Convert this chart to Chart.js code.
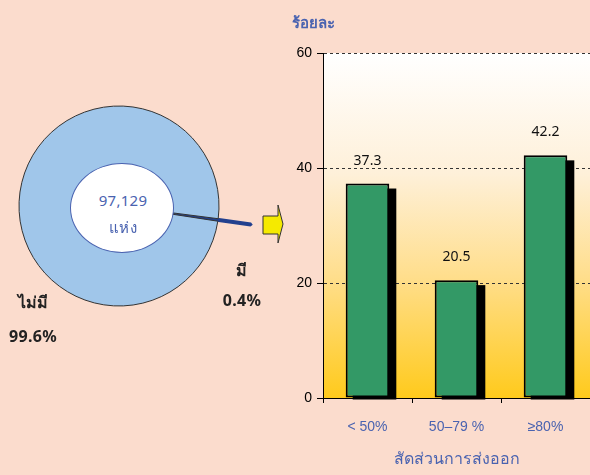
<!DOCTYPE html>
<html lang="th">
<head>
<meta charset="utf-8">
<script src="https://cdn.jsdelivr.net/npm/chart.js@4.4.1/dist/chart.umd.min.js"></script>
<style>
  html, body { margin: 0; padding: 0; }
  body {
    width: 590px; height: 475px; position: relative; overflow: hidden;
    background: #FBDCCD;
    font-family: "Noto Sans", "DejaVu Sans", sans-serif;
  }
  #caja-pastel { position: absolute; left: 0; top: 0; width: 280px; height: 475px; }
  #caja-barras { position: absolute; left: 280px; top: 0; width: 310px; height: 475px; }
  #centro {
    position: absolute; left: 70px; top: 163px; width: 102px; height: 88px;
    border: 1px solid #4A63B0; border-radius: 50%; background: #fff;
  }
  .txt { position: absolute; transform: translate(-50%, -50%); white-space: nowrap; }
  .negro { font-size: 16px; font-weight: bold; color: #222; letter-spacing: 0.3px; }
  .azul { font-size: 15px; color: #4A63B0; letter-spacing: 0.3px; }
  #flecha { position: absolute; left: 262px; top: 204px; }
</style>
</head>
<body>
<div id="caja-pastel"><canvas id="pastel" width="280" height="475"></canvas></div>
<div id="caja-barras"><canvas id="barras" width="310" height="475"></canvas></div>

<div id="centro"></div>
<div class="txt azul" style="left:123px; top:200px;">97,129</div>
<div class="txt azul" style="left:123px; top:228px;">แห่ง</div>
<div class="txt negro" style="left:242px; top:270px;">มี</div>
<div class="txt negro" style="left:242px; top:300px;">0.4%</div>
<div class="txt negro" style="left:33px; top:302px;">ไม่มี</div>
<div class="txt negro" style="left:33px; top:336px;">99.6%</div>

<svg id="flecha" width="26" height="42">
  <polygon points="1,12 16,12 16,1 21,20 16,39 16,30 1,30" fill="#F5EA00" stroke="#333" stroke-width="1"/>
</svg>

<script>
// datos del grafico
const categoriasPastel = ["มี", "ไม่มี"];
const valoresPastel = [0.4, 99.6];

const categoriasBarras = ["< 50%", "50–79 %", "≥80%"];
const valoresBarras = [37.3, 20.5, 42.2];
const ticksY = [0, 20, 40, 60];

const azul = "#4A63B0";

/******************************************************************
 * Grafico de anillo (el centro blanco va encima en html)
 ******************************************************************/
new Chart(document.getElementById("pastel"), {
  type: "doughnut",
  data: {
    labels: categoriasPastel,
    datasets: [
      {
        data: valoresPastel,
        backgroundColor: ["#2B4EA2", "#A0C6EA"],
        borderColor: ["#22408E", "#333333"],
        borderWidth: [4, 1],
        offset: [67, 0],
        clip: false,
      },
    ],
  },
  options: {
    responsive: false,
    animation: false,
    radius: 100,
    cutout: "23%",
    rotation: 97.3,
    layout: { padding: { right: 42, bottom: 63 } },
    plugins: {
      legend: { display: false },
      tooltip: { enabled: false },
    },
  },
});

/******************************************************************
 * Plugins para el grafico de barras
 ******************************************************************/
const fondoDegradado = {
  id: "fondoDegradado",
  beforeDraw(chart) {
    const { ctx, chartArea: a } = chart;
    const g = ctx.createLinearGradient(0, a.top, 0, a.bottom);
    g.addColorStop(0, "#FFFFFF");
    g.addColorStop(0.35, "#FEF0D9");
    g.addColorStop(0.65, "#FFDE8C");
    g.addColorStop(1, "#FFCA1C");
    ctx.save();
    ctx.fillStyle = g;
    ctx.fillRect(a.left, a.top, a.right - a.left, a.bottom - a.top);
    ctx.restore();
  },
};

// sombra negra de cada barra, desplazada abajo a la derecha
const sombra = {
  id: "sombra",
  beforeDatasetsDraw(chart) {
    const ctx = chart.ctx;
    const meta = chart.getDatasetMeta(0);
    ctx.save();
    ctx.fillStyle = "#000";
    meta.data.forEach((bar) => {
      const { x, y, base, width } = bar.getProps(["x", "y", "base", "width"], true);
      ctx.fillRect(x - width / 2 + 7, y + 5, width, base - y - 3);
    });
    ctx.restore();
  },
};

const etiquetas = {
  id: "etiquetas",
  afterDatasetsDraw(chart) {
    const ctx = chart.ctx;
    const meta = chart.getDatasetMeta(0);
    ctx.save();
    ctx.font = "14px 'Noto Sans', 'DejaVu Sans', sans-serif";
    ctx.fillStyle = "#111";
    ctx.textAlign = "center";
    ctx.textBaseline = "middle";
    meta.data.forEach((bar, i) => {
      ctx.fillText(valoresBarras[i].toFixed(1), bar.x, bar.y - 23);
    });
    ctx.restore();
  },
};

new Chart(document.getElementById("barras"), {
  type: "bar",
  data: {
    labels: categoriasBarras,
    datasets: [
      {
        data: valoresBarras,
        backgroundColor: "#339966",
        borderColor: "#000",
        borderWidth: 2,
        borderSkipped: false,
        barPercentage: 0.49,
        categoryPercentage: 1,
      },
    ],
  },
  options: {
    responsive: false,
    animation: false,
    layout: { padding: { left: 12, right: 0, top: 0, bottom: 0 } },
    scales: {
      x: {
        grid: {
          offset: true,
          drawOnChartArea: false,
          drawTicks: true,
          tickLength: 5,
          color: "#000",
        },
        border: { display: true, color: "#000", width: 1 },
        ticks: { color: azul, font: { size: 14 }, padding: 16 },
        title: {
          display: true,
          text: "สัดส่วนการส่งออก",
          color: azul,
          font: { size: 16 },
          padding: { top: 0, bottom: 6 },
        },
        afterFit(scale) {
          scale.height = 77;
        },
      },
      y: {
        min: 0,
        max: 60,
        afterBuildTicks(scale) {
          scale.ticks = ticksY.map((v) => ({ value: v }));
        },
        grid: {
          color: (c) => (c.tick && c.tick.value === 0 ? "rgba(0,0,0,0)" : "#333"),
          drawTicks: true,
          tickLength: 6,
          tickColor: "#000",
        },
        border: { display: true, color: "#000", width: 1, dash: [3, 3] },
        ticks: { color: "#000", font: { size: 14 }, padding: 5 },
        afterFit(scale) {
          scale.width = 31;
        },
      },
    },
    plugins: {
      legend: { display: false },
      tooltip: { enabled: false },
      title: {
        display: true,
        text: "ร้อยละ",
        align: "start",
        color: azul,
        font: { size: 15, weight: "bold" },
        padding: { top: 15, bottom: 20 },
      },
    },
  },
  plugins: [fondoDegradado, sombra, etiquetas],
});
</script>
</body>
</html>
